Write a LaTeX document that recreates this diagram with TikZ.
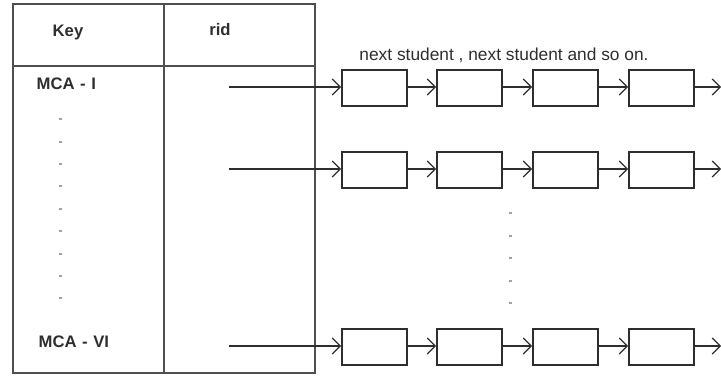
\documentclass[tikz,border=0pt]{standalone}
\usepackage{fontspec}
\setmainfont{Liberation Sans}
\usetikzlibrary{arrows.meta,positioning}
\definecolor{ink}{HTML}{2E2E2E}
\definecolor{grid}{HTML}{4F4F4F}
\definecolor{dotc}{HTML}{A69AB5}
\tikzset{
  cell/.style={rectangle,draw=ink,line width=1.4pt,minimum width=48.75pt,minimum height=27pt,inner sep=0pt},
  link/.style={-{Straight Barb[length=6pt,width=12pt,line width=0.9pt]},line width=1pt,ink},
  head/.style={font=\fontsize{12.5}{14}\selectfont\bfseries,text=ink},
  note/.style={font=\fontsize{13}{15}\selectfont,text=ink}
}

\begin{document}
\begin{tikzpicture}[x=0.75pt,y=-0.75pt]
    \useasboundingbox (0,0) rectangle (721,375);
    % table
    \draw[grid,line width=1.4pt] (13,4) rectangle (315,373);
    \draw[grid,line width=1.4pt] (13,66) -- (315,66);
    \draw[grid,line width=1.4pt] (164,4) -- (164,373);
    \node[head] (key) at (68,32) {Key};
    \node[head] (rid) at (220,30) {rid};
    \node[head,anchor=west] (mca1) at (32,84) {MCA\,\,-\,\,I};
    \node[head,anchor=west] (mca6) at (34,342) {MCA\,\,-\,\,VI};
    \foreach \y in {119,142,164,186,209,231,254,276,298}
      \fill[dotc] (58.5,\y-1) rectangle (61.5,\y+1);
    \foreach \y in {213,236,258,281,303}
      \fill[dotc] (508.5,\y-1) rectangle (511.5,\y+1);
    \node[note] (txt) at (504,55) {next student , next student and so on.};
    % student lists
    \foreach \r/\y in {a/87,b/169,c/346}{
      \coordinate (\r0) at (229,\y);
      \coordinate (\r5) at (721,\y);
      \node[cell] (\r1) at (374.5,\y+1) {};
      \node[cell] (\r2) at (469.5,\y+1) {};
      \node[cell] (\r3) at (565.5,\y+1) {};
      \node[cell] (\r4) at (661.5,\y+1) {};
      \draw[link] (\r0) -- (\r0 -| \r1.west);
      \draw[link] (\r1.east |- \r0) -- (\r0 -| \r2.west);
      \draw[link] (\r2.east |- \r0) -- (\r0 -| \r3.west);
      \draw[link] (\r3.east |- \r0) -- (\r0 -| \r4.west);
      \draw[link] (\r4.east |- \r0) -- (\r5);
    }
  \end{tikzpicture}
\end{document}
